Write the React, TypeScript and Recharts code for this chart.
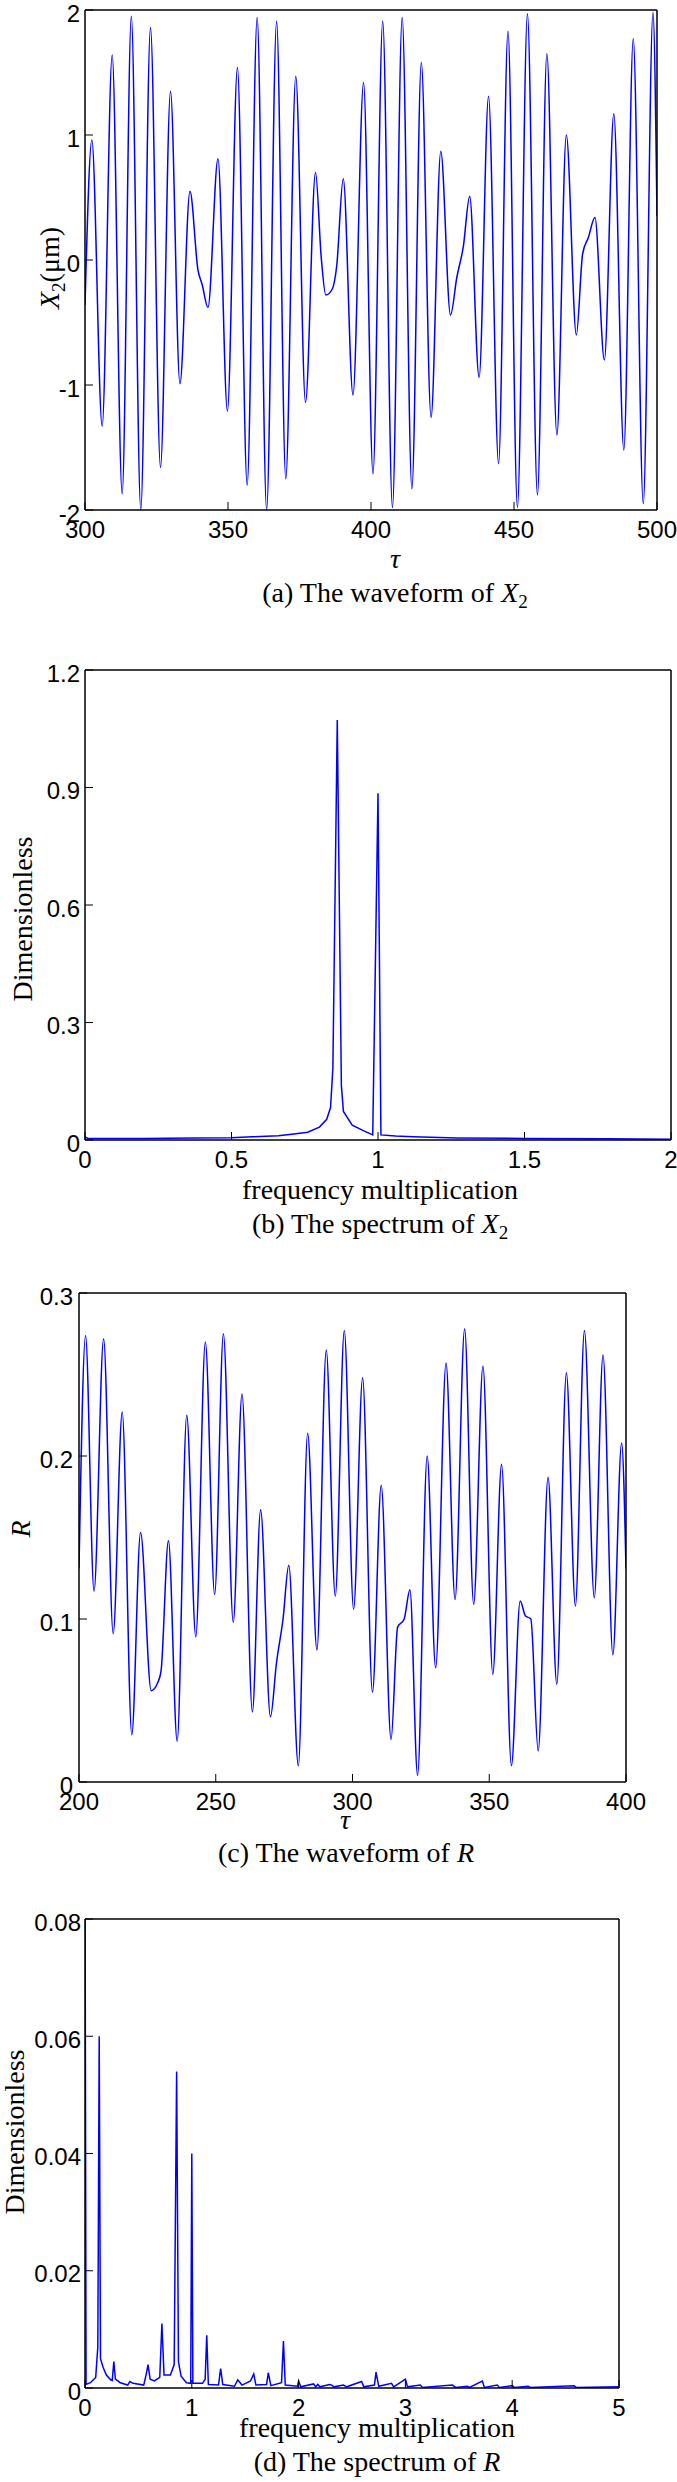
import React from 'react';
import { LineChart, Line, XAxis, YAxis } from 'recharts';

// (a) waveform of X2
const tauA = [
  300, 302.4, 306, 309.5, 313, 316.2, 319.5, 322.9, 326.4, 329.9,
  333.2, 336.7, 339.5, 341, 343, 346.5, 349.8, 353.3, 356.7, 360.2,
  363.5, 367, 370.2, 373.7, 377.1, 380.6, 382.6, 384.2, 386.5, 388,
  390.3, 393.7, 397.4, 400.7, 404.1, 407.5, 410.9, 414.3, 417.6, 421,
  424.4, 427.8, 430, 432.3, 434.5, 437.8, 441.1, 444.6, 447.9, 451.2,
  454.7, 458.2, 461.5, 465, 468.3, 471.8, 474, 476, 478.3, 481.6,
  484.9, 488.4, 491.7, 495.2, 498.6, 500,
];
const x2A = [
  -0.36, 0.96, -1.33, 1.64, -1.87, 1.95, -2.0, 1.86, -1.66, 1.35,
  -0.99, 0.55, -0.08, -0.2, -0.38, 0.81, -1.21, 1.54, -1.8, 1.94,
  -2.0, 1.91, -1.75, 1.47, -1.14, 0.7, 0.02, -0.28, -0.23, -0.05,
  0.65, -1.08, 1.42, -1.71, 1.91, -1.98, 1.94, -1.83, 1.58, -1.26,
  0.87, -0.44, -0.14, 0.11, 0.51, -0.94, 1.31, -1.63, 1.83, -1.98,
  1.97, -1.88, 1.65, -1.4, 1.0, -0.6, 0.05, 0.18, 0.34, -0.8,
  1.17, -1.52, 1.77, -1.95, 1.98, 0.35,
];

// (b) spectrum of X2
const freqB = [
  0, 0.01, 0.2, 0.37, 0.5, 0.57, 0.66, 0.72, 0.76, 0.8, 0.825, 0.838, 0.846,
  0.861, 0.875, 0.882, 0.912, 0.95, 0.982, 1.0, 1.01, 1.06, 1.12, 1.27, 1.5, 1.78, 2.0,
];
const specB = [
  0.008, 0.004, 0.004, 0.005, 0.006, 0.008, 0.011, 0.016, 0.02, 0.033, 0.053, 0.083, 0.184,
  1.072, 0.139, 0.073, 0.038, 0.024, 0.013, 0.885, 0.013, 0.01, 0.008, 0.005, 0.004, 0.003, 0.002,
];

// (c) waveform of R
const tauC = [
  200, 202.4, 205.5, 209, 212.5, 215.8, 219.3, 222.5, 226.4, 228.8,
  230, 232.7, 235.9, 239.4, 242.7, 246.2, 249.6, 252.8, 256.4, 259.6,
  263.4, 266.4, 270, 272.2, 274.6, 276.7, 280.2, 283.6, 287, 290.4,
  293.7, 297, 300.4, 303.7, 307.3, 310.5, 314.1, 316.5, 318.9, 321,
  323.8, 327.3, 330.4, 334.2, 337.5, 341, 344.3, 347.7, 351.3, 354.5,
  358.1, 361.3, 363.2, 365.2, 367.9, 371.5, 374.7, 378.2, 381.5, 384.8,
  388.4, 391.6, 395.2, 398.4, 400,
];
const rC = [
  0.131, 0.274, 0.117, 0.272, 0.091, 0.227, 0.029, 0.153, 0.056, 0.061,
  0.068, 0.148, 0.025, 0.225, 0.089, 0.27, 0.115, 0.275, 0.098, 0.238,
  0.043, 0.167, 0.04, 0.073, 0.1, 0.133, 0.01, 0.214, 0.081, 0.265,
  0.114, 0.277, 0.106, 0.248, 0.055, 0.182, 0.026, 0.095, 0.1, 0.118,
  0.004, 0.2, 0.07, 0.257, 0.112, 0.278, 0.109, 0.255, 0.066, 0.195,
  0.01, 0.111, 0.102, 0.1, 0.019, 0.187, 0.06, 0.251, 0.108, 0.277,
  0.113, 0.262, 0.078, 0.208, 0.131,
];

// (d) spectrum of R
const freqD = [
  0, 0.01, 0.05, 0.1, 0.12, 0.133, 0.145, 0.17, 0.2, 0.24,
  0.255, 0.27, 0.285, 0.33, 0.4, 0.42, 0.45, 0.55, 0.575, 0.59,
  0.61, 0.65, 0.7, 0.72, 0.74, 0.8, 0.835, 0.858, 0.875, 0.9,
  0.95, 0.99, 1.0, 1.01, 1.1, 1.125, 1.14, 1.155, 1.25, 1.27,
  1.29, 1.4, 1.43, 1.47, 1.55, 1.58, 1.6, 1.7, 1.716, 1.74,
  1.84, 1.858, 1.875, 1.99, 2.0, 2.02, 2.14, 2.16, 2.18, 2.2,
  2.29, 2.31, 2.33, 2.42, 2.45, 2.59, 2.61, 2.71, 2.725, 2.75,
  2.87, 2.89, 3.0, 3.02, 3.14, 3.16, 3.44, 3.47, 3.58, 3.6,
  3.72, 3.74, 3.86, 3.88, 4.0, 4.02, 4.15, 4.17, 4.58, 4.6, 5.0,
];
const specD = [
  0.09, 0.0006, 0.0009, 0.0018, 0.007, 0.06, 0.005, 0.0035, 0.0022, 0.0014,
  0.0013, 0.0045, 0.0015, 0.0009, 0.0005, 0.0011, 0.0008, 0.0005, 0.0025, 0.004,
  0.0015, 0.0012, 0.0018, 0.011, 0.0022, 0.0022, 0.004, 0.054, 0.0045, 0.002,
  0.0009, 0.0008, 0.04, 0.0008, 0.0008, 0.0015, 0.009, 0.0006, 0.0005, 0.0033,
  0.0006, 0.0003, 0.0014, 0.0005, 0.0012, 0.0024, 0.0005, 0.0006, 0.0026, 0.0004,
  0.0009, 0.008, 0.0005, 0.0003, 0.0012, 0.0002, 0.0007, 0.0002, 0.0006, 0.0002,
  0.0006, 0.0005, 0.0002, 0.0005, 0.0002, 0.0011, 0.0002, 0.0005, 0.0027, 0.0003,
  0.0008, 0.0002, 0.0015, 0.0002, 0.0005, 0.0001, 0.0005, 0.0001, 0.0003, 0.0001,
  0.0012, 0.0001, 0.0005, 0.0001, 0.0004, 0.0001, 0.0003, 0.0001, 0.0004, 0.0001, 0.0002,
];

const ticksXA = [300, 350, 400, 450, 500];
const ticksYA = [-2, -1, 0, 1, 2];
const ticksXB = [0, 0.5, 1, 1.5, 2];
const ticksYB = [0, 0.3, 0.6, 0.9, 1.2];
const ticksXC = [200, 250, 300, 350, 400];
const ticksYC = [0, 0.1, 0.2, 0.3];
const ticksXD = [0, 1, 2, 3, 4, 5];
const ticksYD = [0, 0.02, 0.04, 0.06, 0.08];

const zip = (xs: number[], ys: number[]) => xs.map((x, i) => ({ x, y: ys[i] }));

const SANS = '"Liberation Sans", Arial, Helvetica, sans-serif';
const SERIF = '"Liberation Serif", "Times New Roman", serif';
const xTickStyle = { fontSize: 24, fill: '#000', fontFamily: SANS };
const yTickStyle = { fontSize: 24, fill: '#000', fontFamily: SANS, dy: 3 };
const axisLine = { stroke: '#000', strokeWidth: 1.5 };
const tickLine = { stroke: '#000', strokeWidth: 1 };

interface PanelProps {
  box: { L: number; T: number; R: number; B: number };
  data: { x: number; y: number }[];
  xDomain: [number, number];
  yDomain: [number, number];
  xTicks: number[];
  yTicks: number[];
  curve: 'monotone' | 'linear';
  yTickMargin: number;
}

function Panel({ box, data, xDomain, yDomain, xTicks, yTicks, curve, yTickMargin }: PanelProps) {
  const { L, T, R, B } = box;
  const width = R + 30;
  const height = B - T + 70;
  return (
    <div style={{ position: 'absolute', left: 0, top: T - 20 }}>
      <LineChart width={width} height={height} data={data} margin={{ top: 19, right: 29, bottom: 0, left: 0 }}>
        <XAxis
          dataKey="x"
          type="number"
          domain={xDomain}
          ticks={xTicks}
          interval={0}
          allowDataOverflow
          height={50}
          tickSize={-8}
          tickMargin={19}
          tick={xTickStyle}
          axisLine={axisLine}
          tickLine={tickLine}
        />
        <XAxis
          xAxisId="top"
          orientation="top"
          dataKey="x"
          type="number"
          domain={xDomain}
          ticks={xTicks}
          interval={0}
          allowDataOverflow
          height={1}
          tickSize={-8}
          tick={false}
          axisLine={axisLine}
          tickLine={tickLine}
        />
        <YAxis
          type="number"
          domain={yDomain}
          ticks={yTicks}
          interval={0}
          allowDataOverflow
          width={L}
          tickSize={-8}
          tickMargin={yTickMargin}
          tick={yTickStyle}
          axisLine={axisLine}
          tickLine={tickLine}
        />
        <YAxis
          yAxisId="right"
          orientation="right"
          type="number"
          domain={yDomain}
          ticks={yTicks}
          interval={0}
          allowDataOverflow
          width={1}
          tickSize={-8}
          tick={false}
          axisLine={axisLine}
          tickLine={tickLine}
        />
        <Line
          type={curve}
          dataKey="y"
          stroke="#0000ff"
          strokeWidth={1.5}
          dot={false}
          activeDot={false}
          isAnimationActive={false}
        />
      </LineChart>
    </div>
  );
}

function Labels() {
  const serif = { fontFamily: SERIF, fontSize: 28, fill: '#000' };
  return (
    <svg width={677} height={2482} style={{ position: 'absolute', left: 0, top: 0, pointerEvents: 'none' }}>
      {/* panel a */}
      <text {...serif} transform="translate(59,268) rotate(-90)" textAnchor="middle">
        <tspan fontStyle="italic">X</tspan>
        <tspan fontSize={19} dy={6}>2</tspan>
        <tspan dy={-6}>(μm)</tspan>
      </text>
      <text {...serif} x={395} y={568} textAnchor="middle" fontStyle="italic">τ</text>
      <text {...serif} x={395} y={602} textAnchor="middle">
        (a) The waveform of <tspan fontStyle="italic">X</tspan>
        <tspan fontSize={19} dy={6}>2</tspan>
      </text>

      {/* panel b */}
      <text {...serif} transform="translate(32,919) rotate(-90)" textAnchor="middle">Dimensionless</text>
      <text {...serif} x={380} y={1199} textAnchor="middle">frequency multiplication</text>
      <text {...serif} x={380} y={1233} textAnchor="middle">
        (b) The spectrum of <tspan fontStyle="italic">X</tspan>
        <tspan fontSize={19} dy={6}>2</tspan>
      </text>

      {/* panel c */}
      <text {...serif} transform="translate(30,1529) rotate(-90)" textAnchor="middle" fontStyle="italic">R</text>
      <text {...serif} x={345} y={1829} textAnchor="middle" fontStyle="italic">τ</text>
      <text {...serif} x={346} y={1862} textAnchor="middle">
        (c) The waveform of <tspan fontStyle="italic">R</tspan>
      </text>

      {/* panel d */}
      <text {...serif} transform="translate(24,2132) rotate(-90)" textAnchor="middle">Dimensionless</text>
      <text {...serif} x={377} y={2437} textAnchor="middle">frequency multiplication</text>
      <text {...serif} x={377} y={2471} textAnchor="middle">
        (d) The spectrum of <tspan fontStyle="italic">R</tspan>
      </text>
    </svg>
  );
}

export default function App() {
  return (
    <div style={{ position: 'absolute', left: 0, top: 0, width: 677, height: 2482, background: '#fff', overflow: 'hidden' }}>
      <Panel
        box={{ L: 85, T: 10, R: 657, B: 510 }}
        data={zip(tauA, x2A)}
        xDomain={[300, 500]}
        yDomain={[-2, 2]}
        xTicks={ticksXA}
        yTicks={ticksYA}
        curve="monotone"
        yTickMargin={13}
      />
      <Panel
        box={{ L: 85, T: 670, R: 671, B: 1140 }}
        data={zip(freqB, specB)}
        xDomain={[0, 2]}
        yDomain={[0, 1.2]}
        xTicks={ticksXB}
        yTicks={ticksYB}
        curve="linear"
        yTickMargin={13}
      />
      <Panel
        box={{ L: 79, T: 1293, R: 626, B: 1782 }}
        data={zip(tauC, rC)}
        xDomain={[200, 400]}
        yDomain={[0, 0.3]}
        xTicks={ticksXC}
        yTicks={ticksYC}
        curve="monotone"
        yTickMargin={14}
      />
      <Panel
        box={{ L: 85, T: 1919, R: 619, B: 2388 }}
        data={zip(freqD, specD)}
        xDomain={[0, 5]}
        yDomain={[0, 0.08]}
        xTicks={ticksXD}
        yTicks={ticksYD}
        curve="linear"
        yTickMargin={12}
      />
      <Labels />
    </div>
  );
}
